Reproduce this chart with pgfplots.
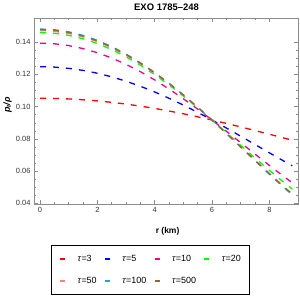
\documentclass[border=0pt]{standalone}
\usepackage{pgfplots}
\pgfplotsset{compat=1.18}
\usepackage{fontspec}
\setmainfont{Liberation Sans}
\definecolor{mpink}{rgb}{1,0.5,0.5}
\definecolor{mbrown}{rgb}{0.6,0.4,0.2}
\definecolor{framegray}{gray}{0.55}
\begin{document}
\begin{tikzpicture}
\useasboundingbox (0,0) rectangle (300bp,-300bp);
\begin{axis}[
  at={(34bp,-204bp)}, anchor=south west,
  scale only axis, width=264bp, height=186bp,
  xmin=-0.21, xmax=9, ymin=0.0396, ymax=0.155,
  xtick={0,2,4,6,8}, ytick={0.04,0.06,0.08,0.10,0.12,0.14},
  minor tick num=3,
  tick align=inside, xtick pos=both, ytick pos=both,
  major tick length=4bp, minor tick length=2.4bp,
  axis line style={framegray, line width=0.6bp},
  every tick/.style={framegray, line width=0.5bp},
  tick label style={font=\fontsize{7.5}{8}\selectfont, text=black!80},
  /pgf/number format/assume math mode=true,
  scaled y ticks=false,
  yticklabel style={/pgf/number format/fixed, /pgf/number format/fixed zerofill, /pgf/number format/precision=2},
  every axis title shift=0pt,
  title={EXO 1785–248},
  title style={font=\bfseries\fontsize{9.5}{10}\selectfont, at={(axis description cs:0.502,1.056)}, anchor=center},
  xlabel={r (km)},
  xlabel style={font=\bfseries\fontsize{8.5}{9}\selectfont, at={(axis description cs:0.506,-0.145)}, anchor=center},
  ylabel={\textbf{\textit{p\textsubscript{t}/ρ}}},
  ylabel style={font=\fontsize{9}{10}\selectfont, at={(axis description cs:-0.1,0.532)}, anchor=center},
  legend columns=4,
  legend cell align=left,
  legend image code/.code={\draw[#1,solid,line width=1.4bp] (0bp,0bp) -- (5bp,0bp); \path[draw=none] (0bp,0bp) -- (17bp,0bp);},
  legend style={at={(axis description cs:0.441,-0.355)}, anchor=center, draw=black, line width=1.2bp,
    font=\fontsize{9}{10}\selectfont, inner xsep=8bp, inner ysep=9bp, row sep=13bp,
    nodes={inner sep=0.5bp},
    /tikz/every even column/.append style={column sep=7bp}},
  every axis plot/.append style={line width=1.3bp, dash pattern=on 6bp off 7bp},
]
\addplot[red] coordinates {(0,0.1052) (0.5,0.10510) (1,0.10479) (1.5,0.10428) (2,0.10358) (2.5,0.10268) (3,0.10160) (3.5,0.10033) (4,0.09890) (4.5,0.09731) (5,0.09557) (5.5,0.09369) (6,0.09170) (6.5,0.08961) (7,0.08743) (7.5,0.08518) (8,0.08289) (8.5,0.08057) (8.8,0.07918)};
\addplot[blue] coordinates {(0,0.1248) (0.5,0.12454) (1,0.12377) (1.5,0.12250) (2,0.12074) (2.5,0.11849) (3,0.11579) (3.5,0.11266) (4,0.10912) (4.5,0.10522) (5,0.10098) (5.5,0.09646) (6,0.09170) (6.5,0.08675) (7,0.08168) (7.5,0.07653) (8,0.07138) (8.5,0.06629) (8.8,0.06331)};
\addplot[magenta] coordinates {(0,0.1394) (0.5,0.13902) (1,0.13790) (1.5,0.13604) (2,0.13346) (2.5,0.13019) (3,0.12626) (3.5,0.12172) (4,0.11660) (4.5,0.11098) (5,0.10490) (5.5,0.09845) (6,0.09170) (6.5,0.08474) (7,0.07766) (7.5,0.07056) (8,0.06355) (8.5,0.05675) (8.8,0.05282)};
\addplot[green] coordinates {(0,0.1460) (0.5,0.14557) (1,0.14428) (1.5,0.14214) (2,0.13918) (2.5,0.13543) (3,0.13094) (3.5,0.12574) (4,0.11990) (4.5,0.11350) (5,0.10661) (5.5,0.09931) (6,0.09170) (6.5,0.08390) (7,0.07600) (7.5,0.06815) (8,0.06046) (8.5,0.05309) (8.8,0.04888)};
\addplot[mpink] coordinates {(0,0.1472) (0.5,0.14676) (1,0.14546) (1.5,0.14330) (2,0.14031) (2.5,0.13652) (3,0.13196) (3.5,0.12668) (4,0.12073) (4.5,0.11418) (5,0.10711) (5.5,0.09959) (6,0.09170) (6.5,0.08356) (7,0.07525) (7.5,0.06691) (8,0.05864) (8.5,0.05058) (8.8,0.04591)};
\addplot[cyan] coordinates {(0,0.1482) (0.5,0.14775) (1,0.14642) (1.5,0.14422) (2,0.14116) (2.5,0.13728) (3,0.13262) (3.5,0.12723) (4,0.12117) (4.5,0.11449) (5,0.10728) (5.5,0.09962) (6,0.09160) (6.5,0.08333) (7,0.07490) (7.5,0.06646) (8,0.05811) (8.5,0.05000) (8.8,0.04530)};
\addplot[mbrown] coordinates {(0,0.1478) (0.5,0.14736) (1,0.14604) (1.5,0.14386) (2,0.14083) (2.5,0.13700) (3,0.13238) (3.5,0.12705) (4,0.12104) (4.5,0.11442) (5,0.10727) (5.5,0.09967) (6,0.09170) (6.5,0.08347) (7,0.07509) (7.5,0.06667) (8,0.05833) (8.5,0.05021) (8.8,0.04550)};
\legend{\textit{τ}=3,\textit{τ}=5,\textit{τ}=10,\textit{τ}=20,\textit{τ}=50,\textit{τ}=100,\textit{τ}=500}
\end{axis}
\end{tikzpicture}
\end{document}
